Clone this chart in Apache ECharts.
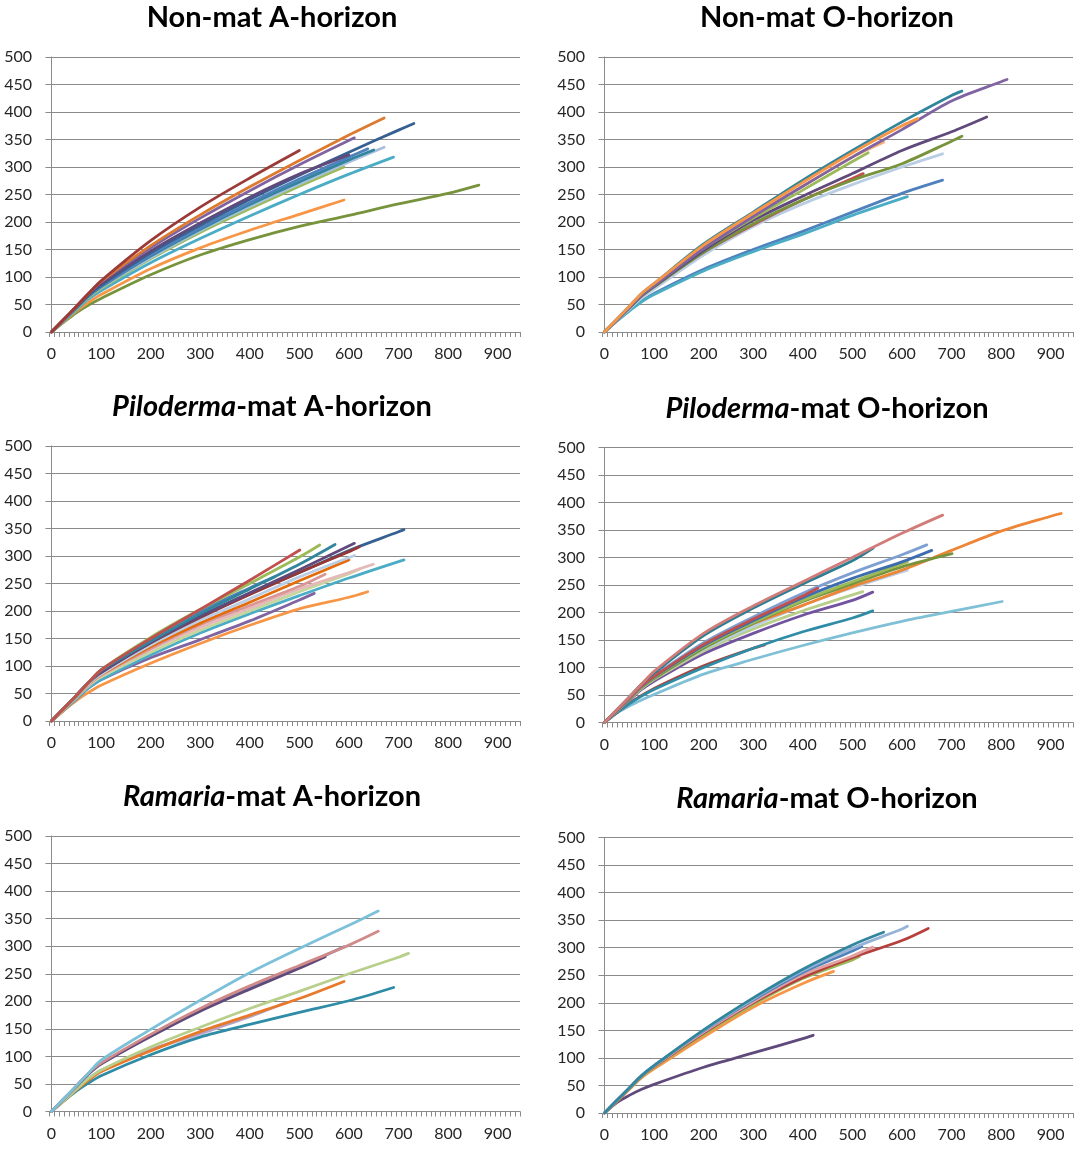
<!DOCTYPE html>
<html>
<head>
<meta charset="utf-8">
<script src="https://cdn.jsdelivr.net/npm/echarts@6/dist/echarts.min.js"></script>
<style>
  html, body { margin: 0; padding: 0; background: #ffffff; }
  #chart { width: 1078px; height: 1151px; }
</style>
</head>
<body>
<div id="chart"></div>
<script>
// Species accumulation curves: reads sampled (x) vs. OTUs observed (y), one curve per sample.

// x-axis categories (every 10 reads) and the labelled ticks
const xCategories = [];
for (let v = 0; v <= 940; v += 10) xCategories.push(String(v));
const yMin = 0, yMax = 500, yStep = 50;

// Non-mat A-horizon
const nonMatA = [
  [[0,0],[25,18],[50,35],[75,49],[100,61],[200,104],[300,140],[400,168],[500,192],[600,212],[700,233],[800,252],[862,267]],
  [[0,0],[25,19],[50,38],[75,54],[100,68],[200,115],[300,153],[400,185],[500,214],[590,240]],
  [[0,0],[25,20],[50,40],[75,60],[100,75],[200,126],[300,170],[400,211],[500,250],[600,287],[690,318]],
  [[0,0],[25,21],[50,42],[75,63],[100,79],[200,133],[300,181],[400,224],[500,265],[590,300]],
  [[0,0],[25,21.5],[50,43],[75,64.5],[100,81],[200,135],[300,184],[400,228],[500,269],[600,309],[671,336]],
  [[0,0],[25,22],[50,43.5],[75,65],[100,82],[200,138],[300,187],[400,232],[500,273],[600,313],[650,331]],
  [[0,0],[25,22],[50,44],[75,66],[100,83],[200,140],[300,189],[400,235],[500,278],[600,318],[638,333]],
  [[0,0],[25,22.5],[50,45],[75,67.5],[100,85],[200,144],[300,194],[400,241],[500,285],[600,327],[700,367],[731,379]],
  [[0,0],[25,23],[50,46.5],[75,70],[100,88],[200,147],[300,198],[400,245],[500,287],[600,322]],
  [[0,0],[25,23],[50,46.5],[75,70],[100,91],[200,153],[300,207],[400,257],[500,304],[611,353]],
  [[0,0],[25,23],[50,46.5],[75,70],[100,92],[200,157],[300,213],[400,264],[500,312],[600,358],[671,389]],
  [[0,0],[25,23],[50,46.5],[75,70],[100,93],[200,166],[300,227],[400,280],[500,330]]
];
const nonMatAColors = ['#77933C','#F79646','#4BACC6','#9BBB59','#A7BEDD','#31859C','#4F81BD','#376092','#604A7B','#8064A2','#DD7A2E','#9C3A37'];

// Non-mat O-horizon
const nonMatO = [
  [[0,0],[25,20],[50,39],[75,56],[100,70],[200,114],[300,150],[400,183],[500,218],[600,252],[682,276]],
  [[0,0],[25,20],[50,38],[75,55],[100,68],[200,111],[300,146],[400,178],[500,212],[611,246]],
  [[0,0],[25,21],[50,41.5],[75,62],[100,78],[200,140],[300,192],[400,233],[500,268],[600,300],[682,324]],
  [[0,0],[25,22.5],[50,45],[75,67.5],[100,85],[200,145],[300,195],[400,240],[500,279],[522,288]],
  [[0,0],[25,22],[50,43.5],[75,65],[100,82],[200,145],[300,197],[400,240],[500,276],[600,306],[700,347],[721,356]],
  [[0,0],[25,22],[50,44],[75,66],[100,83],[200,148],[300,203],[400,247],[500,288],[600,330],[700,364],[771,391]],
  [[0,0],[25,22.5],[50,45],[75,67.5],[100,85],[200,152],[300,207],[400,258],[500,310],[532,326]],
  [[0,0],[25,23],[50,46],[75,69],[100,87],[200,155],[300,212],[400,265],[500,318],[563,345]],
  [[0,0],[25,22],[50,44.5],[75,67],[100,84],[200,152],[300,210],[400,265],[500,318],[600,368],[700,420],[800,455],[812,459]],
  [[0,0],[25,23],[50,46.5],[75,70],[100,88],[200,160],[300,218],[400,276],[500,330],[600,382],[700,430],[721,438]],
  [[0,0],[25,23],[50,46.5],[75,70],[100,88],[200,158],[300,216],[400,272],[500,326],[600,375],[632,388]]
];
const nonMatOColors = ['#4F81BD','#4BACC6','#B9CDE5','#C0504D','#77933C','#604A7B','#9BBB59','#F9B074','#8064A2','#31859C','#F79646'];

// Piloderma-mat A-horizon
const pilodermaA = [
  [[0,0],[25,19],[50,37],[75,52],[100,65],[200,105],[300,141],[400,174],[500,204],[600,225],[638,235]],
  [[0,0],[25,20],[50,40],[75,60],[100,75],[200,115],[300,148],[400,182],[500,220],[530,232]],
  [[0,0],[25,20],[50,40],[75,60],[100,75],[200,120],[300,160],[400,195],[500,228],[600,260],[711,293]],
  [[0,0],[25,21],[50,42.5],[75,64],[100,80],[200,125],[300,165],[400,200],[500,235],[600,268],[621,276]],
  [[0,0],[25,22],[50,43.5],[75,65],[100,82],[200,130],[300,170],[400,205],[500,240],[600,270],[649,285]],
  [[0,0],[25,22],[50,44.5],[75,67],[100,84],[200,132],[300,175],[400,210],[500,245],[552,267]],
  [[0,0],[25,22],[50,44.5],[75,67],[100,84],[200,135],[300,178],[400,216],[500,255],[600,293]],
  [[0,0],[25,22.5],[50,45],[75,67.5],[100,85],[200,138],[300,183],[400,222],[500,262],[611,301]],
  [[0,0],[25,23],[50,46.5],[75,70],[100,90],[200,143],[300,190],[400,232],[500,270],[600,310],[700,344],[711,348]],
  [[0,0],[25,23],[50,46.5],[75,70],[100,88],[200,142],[300,188],[400,230],[500,270],[600,308],[621,317]],
  [[0,0],[25,23],[50,46.5],[75,70],[100,88],[200,142],[300,190],[400,233],[500,275],[611,323]],
  [[0,0],[25,23],[50,46.5],[75,70],[100,93],[200,150],[300,200],[400,242],[450,262]],
  [[0,0],[25,23],[50,46.5],[75,70],[100,92],[200,145],[300,195],[400,240],[500,285],[572,321]],
  [[0,0],[25,23],[50,46.5],[75,70],[100,93],[200,152],[300,203],[400,250],[500,298],[541,320]],
  [[0,0],[25,23],[50,46.5],[75,70],[100,93],[200,150],[300,203],[400,256],[501,311]]
];
const pilodermaAColors = ['#F79646','#8064A2','#4BACC6','#C3D69B','#E6B9B8','#D99694','#E46C0A','#B9CDE5','#366092','#953735','#604A7B','#4F81BD','#31859C','#9BBB59','#C0504D'];

// Piloderma-mat O-horizon
const pilodermaO = [
  [[0,0],[25,17],[50,30],[75,41],[100,51],[200,88],[300,115],[400,140],[500,163],[600,184],[700,202],[802,220]],
  [[0,0],[25,18],[50,35],[75,49],[100,62],[200,103],[300,135],[323,141]],
  [[0,0],[25,18],[50,34],[75,48],[100,60],[200,100],[300,135],[400,165],[500,190],[541,203]],
  [[0,0],[25,20],[50,40],[75,60],[100,75],[200,125],[300,162],[400,195],[500,222],[541,237]],
  [[0,0],[25,21],[50,41.5],[75,62],[100,78],[200,130],[300,170],[400,203],[521,238]],
  [[0,0],[25,21],[50,42.5],[75,64],[100,80],[200,133],[300,175],[400,213],[500,245],[611,277]],
  [[0,0],[25,22],[50,43.5],[75,65],[100,82],[200,140],[300,180],[400,213],[500,247],[600,277],[700,313],[800,348],[900,375],[921,380]],
  [[0,0],[25,21],[50,42.5],[75,64],[100,80],[200,135],[300,180],[400,220],[500,252],[600,283],[701,307]],
  [[0,0],[25,22],[50,43.5],[75,65],[100,82],[200,138],[300,182],[400,222],[500,256],[611,292]],
  [[0,0],[25,22],[50,44],[75,66],[100,83],[200,140],[300,185],[400,227],[500,262],[600,292],[660,313]],
  [[0,0],[25,22.5],[50,45],[75,67.5],[100,85],[200,145],[300,192],[400,235],[500,272],[600,305],[650,323]],
  [[0,0],[25,22],[50,44.5],[75,67],[100,84],[200,142],[300,188],[400,230],[430,244]],
  [[0,0],[25,23],[50,46.5],[75,70],[100,90],[200,158],[300,208],[400,252],[500,294],[542,317]],
  [[0,0],[25,23],[50,46.5],[75,70],[100,93],[200,162],[300,212],[400,256],[500,300],[600,344],[682,377]]
];
const pilodermaOColors = ['#7FC0D6','#A8423F','#2E8CA6','#7253A0','#B7CF8A','#B9CDE5','#EE8535','#77933C','#9BBB59','#3D6DB0','#7E9FD2','#C0504D','#2C7E93','#D27C79'];

// Ramaria-mat A-horizon
const ramariaA = [
  [[0,0],[25,20],[50,40],[75,60],[100,75],[200,112],[300,140],[350,157]],
  [[0,0],[25,20],[50,40],[75,60],[100,75],[200,112],[300,142],[400,172],[468,196]],
  [[0,0],[25,19],[50,37],[75,52],[100,65],[200,103],[300,135],[400,158],[500,180],[600,201],[690,225]],
  [[0,0],[25,19.5],[50,39],[75,57],[100,72],[200,110],[300,145],[400,175],[500,205],[590,236]],
  [[0,0],[25,20],[50,40],[75,60],[100,75],[200,117],[300,153],[400,187],[500,218],[600,250],[700,280],[720,287]],
  [[0,0],[25,23],[50,46],[75,69],[100,87],[200,138],[300,185],[400,224],[500,262],[590,299]],
  [[0,0],[25,23],[50,45.5],[75,68],[100,86],[200,136],[300,182],[400,222],[500,260],[552,281]],
  [[0,0],[25,23],[50,46.5],[75,70],[100,88],[200,140],[300,187],[400,228],[500,265],[600,302],[659,327]],
  [[0,0],[25,23],[50,46.5],[75,70],[100,93],[200,149],[300,202],[400,252],[500,296],[600,338],[659,364]]
];
const ramariaAColors = ['#CCC1DA','#B3A2C7','#2E8CA6','#E8782A','#B7CF8A','#4F81BD','#604A7B','#D08A88','#7CC1D9'];

// Ramaria-mat O-horizon
const ramariaO = [
  [[0,0],[25,19],[50,32],[75,43],[100,52],[200,83],[300,109],[400,135],[421,141]],
  [[0,0],[25,21],[50,42.5],[75,64],[100,80],[200,138],[300,192],[400,235],[462,257]],
  [[0,0],[25,22],[50,44],[75,66],[100,83],[200,143],[300,197],[400,244],[500,278],[514,284]],
  [[0,0],[25,22],[50,44.5],[75,67],[100,84],[200,145],[300,200],[400,246],[500,282],[600,313],[653,335]],
  [[0,0],[25,22.5],[50,45],[75,67.5],[100,85],[200,147],[300,202],[400,251],[500,285],[541,301]],
  [[0,0],[25,23],[50,45.5],[75,68],[100,86],[200,149],[300,205],[400,255],[500,294],[519,302]],
  [[0,0],[25,23],[50,45.5],[75,68],[100,86],[200,150],[300,207],[400,258],[500,299],[600,334],[611,339]],
  [[0,0],[25,23],[50,45.5],[75,68],[100,86],[200,151],[300,209],[400,261],[500,305],[563,328]]
];
const ramariaOColors = ['#604A7B','#F79646','#9BBB59','#B5403D','#E0A3A1','#4F81BD','#95B3D7','#31859C'];

const panelTitles = [
  'Non-mat A-horizon',
  'Non-mat O-horizon',
  '{i|Piloderma}-mat A-horizon',
  '{i|Piloderma}-mat O-horizon',
  '{i|Ramaria}-mat A-horizon',
  '{i|Ramaria}-mat O-horizon'
];
const panelCurves = [nonMatA, nonMatO, pilodermaA, pilodermaO, ramariaA, ramariaO];
const panelColors = [nonMatAColors, nonMatOColors, pilodermaAColors, pilodermaOColors, ramariaAColors, ramariaOColors];

// plot rectangles (px) and title anchors
const plotBoxes = [
  { left: 49,  top: 57,    height: 275 },
  { left: 602, top: 57,    height: 275 },
  { left: 49,  top: 446,   height: 275 },
  { left: 602, top: 447.5, height: 275 },
  { left: 49,  top: 836,   height: 275.5 },
  { left: 602, top: 837.5, height: 275.5 }
];
const plotWidth = 471;
const titleAnchors = [[267, -2], [822, -2], [267, 387], [822, 389], [267, 777], [822, 779]];

const FONT = 'Lato, "Open Sans", sans-serif';
const AXIS_GRAY = '#8a8a8a';
const TEXT = '#262626';

const grid = [], xAxis = [], yAxis = [], title = [], series = [];

plotBoxes.forEach((b, i) => {
  grid.push({ left: b.left, top: b.top, width: plotWidth, height: b.height, containLabel: false, outerBoundsMode: 'none' });
  title.push({
    text: panelTitles[i],
    left: titleAnchors[i][0], top: titleAnchors[i][1], textAlign: 'center',
    textStyle: {
      fontFamily: FONT, fontSize: 29, fontWeight: 'bold', color: '#000',
      rich: { i: { fontFamily: FONT, fontSize: 29, fontWeight: 'bold', fontStyle: 'italic', color: '#000' } }
    }
  });
  yAxis.push({
    type: 'value', gridIndex: i, min: yMin, max: yMax, interval: yStep,
    axisLine: { show: true, lineStyle: { color: AXIS_GRAY, width: 1 } },
    axisTick: { show: true, length: 6, lineStyle: { color: AXIS_GRAY } },
    axisLabel: { margin: 17, fontFamily: FONT, fontSize: 16, color: TEXT },
    splitLine: { show: true, lineStyle: { color: AXIS_GRAY, width: 1 } }
  });
});

// category axes carry the tick marks and labels
plotBoxes.forEach((b, i) => {
  xAxis.push({
    type: 'category', gridIndex: i, data: xCategories, boundaryGap: true,
    axisLine: { show: true, lineStyle: { color: AXIS_GRAY, width: 1 } },
    axisTick: { show: true, interval: 0, length: 5, lineStyle: { color: AXIS_GRAY } },
    axisLabel: { interval: 9, margin: 14, fontFamily: FONT, fontSize: 16, color: TEXT },
    splitLine: { show: false }
  });
});
// hidden numeric axes the curves are plotted against (same span as the categories)
plotBoxes.forEach((b, i) => {
  xAxis.push({ type: 'value', gridIndex: i, min: -5, max: 945, show: false, splitLine: { show: false } });
});

panelCurves.forEach((curves, i) => {
  curves.forEach((pts, j) => {
    const c = panelColors[i][j];
    series.push({
      type: 'line', xAxisIndex: 6 + i, yAxisIndex: i, data: pts,
      showSymbol: false, symbol: 'none', smooth: 0.3,
      lineStyle: { width: 2.8, color: c, cap: 'round', join: 'round' },
      itemStyle: { color: c }, silent: true
    });
  });
});

const chart = echarts.init(document.getElementById('chart'), null, { renderer: 'canvas' });
chart.setOption({ animation: false, backgroundColor: '#ffffff', title, grid, xAxis, yAxis, series });
</script>
</body>
</html>
